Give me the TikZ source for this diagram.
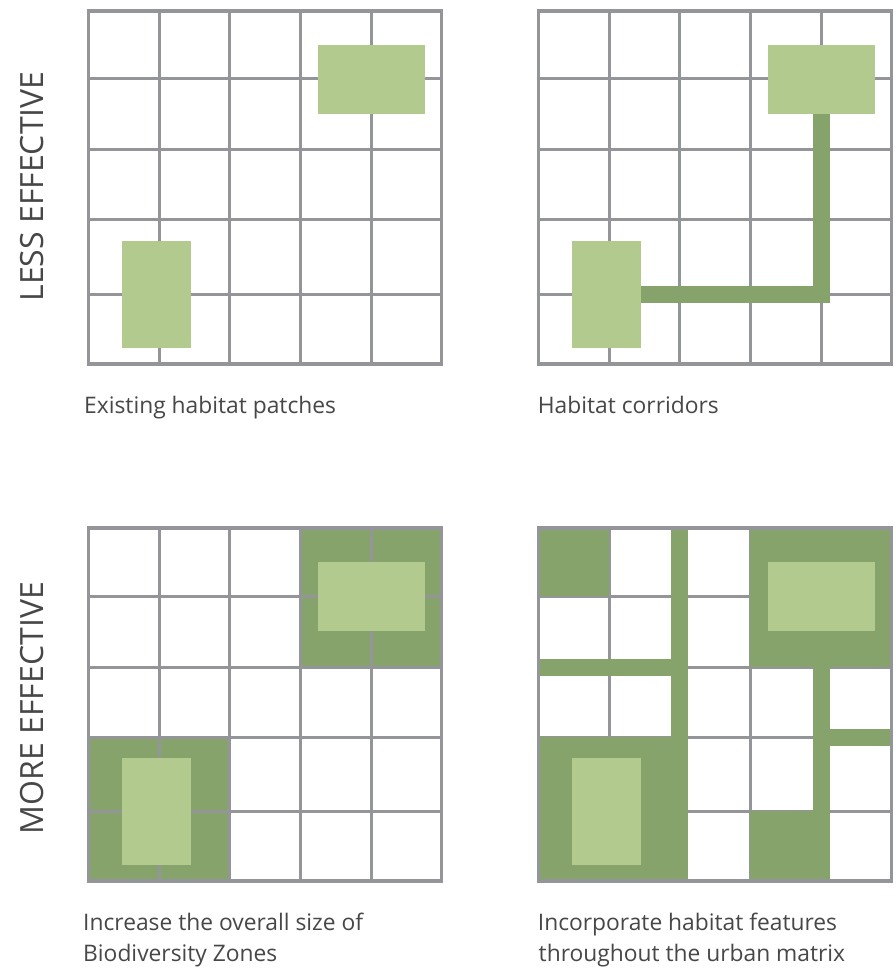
\documentclass[tikz,border=0pt]{standalone}
\usepackage{fontspec}
\setmainfont{Open Sans}
\definecolor{gridgray}{HTML}{939598}
\definecolor{lightgreen}{HTML}{B3CA8E}
\definecolor{darkgreen}{HTML}{86A36C}
\definecolor{txt}{HTML}{474747}
\newcommand\mygrid{%
  \foreach \gx in {159,229.7,300.3,371.3} \draw[gridline] (\gx,11) -- (\gx,364);
  \foreach \gy in {79,150,220,294} \draw[gridline] (88.3,\gy) -- (441.7,\gy);
}
\newcommand\myborder{\draw[border] (88.3,11) rectangle (441.7,364);}
\newcommand\mypatches{%
  \fill[patch] (318,45) rectangle (425,114);
  \fill[patch] (122,241) rectangle (191,348);
}
\begin{document}
\begin{tikzpicture}[x=1pt,y=-1pt,
  gridline/.style={draw=gridgray, line width=3pt},
  border/.style={draw=gridgray, line width=3.4pt},
  patch/.style={fill=lightgreen},
  dark/.style={fill=darkgreen},
  caption/.style={anchor=base west, inner sep=0pt, text=txt, font=\fontsize{22.8}{28}\selectfont},
  side/.style={anchor=base, rotate=90, inner sep=0pt, text=txt, font=\fontsize{32}{38}\selectfont}]
\useasboundingbox (0,0) rectangle (895,968);
\fill[white] (0,0) rectangle (895,968);

% top-left: existing habitat patches
\begin{scope}
  \mygrid
  \myborder
  \mypatches
\end{scope}

% top-right: habitat corridors
\begin{scope}[shift={(450,0)}]
  \mygrid
  \myborder
  \fill[dark] (191,285.5) rectangle (379.8,302.5);
  \fill[dark] (362.8,114) rectangle (379.8,302.5);
  \mypatches
\end{scope}

% bottom-left: increased zone size
\begin{scope}[shift={(0,517)}]
  \fill[dark] (300.3,11) rectangle (441.7,150);
  \fill[dark] (88.3,220) rectangle (229.7,364);
  \mygrid
  \myborder
  \mypatches
\end{scope}

% bottom-right: habitat features throughout the matrix
\begin{scope}[shift={(450,517)}]
  \mygrid
  \fill[dark] (88.3,11) rectangle (159,79);
  \fill[dark] (300.3,11) rectangle (441.7,150);
  \fill[dark] (88.3,220) rectangle (238.2,364);
  \fill[dark] (300.3,294) rectangle (379.8,364);
  \fill[dark] (221.2,11) rectangle (238.2,364);
  \fill[dark] (362.8,150) rectangle (379.8,364);
  \fill[dark] (88.3,141.5) rectangle (221.2,158.5);
  \fill[dark] (379.8,211.5) rectangle (441.7,228.5);
  \myborder
  \mypatches
\end{scope}

\node[caption] (cap1) at (84,413.3) {Existing habitat patches};
\node[caption] (cap2) at (537.7,413.3) {Habitat corridors};
\node[caption] (cap3a) at (83,930) {Increase the overall size of};
\node[caption] (cap3b) at (83,961.5) {Biodiversity Zones};
\node[caption] (cap4a) at (537.7,930) {Incorporate habitat features};
\node[caption] (cap4b) at (538.5,961.5) {throughout the urban matrix};
\node[side] (less) at (43.3,186.5) {LESS EFFECTIVE};
\node[side] (more) at (43.3,708) {MORE EFFECTIVE};
\end{tikzpicture}
\end{document}
